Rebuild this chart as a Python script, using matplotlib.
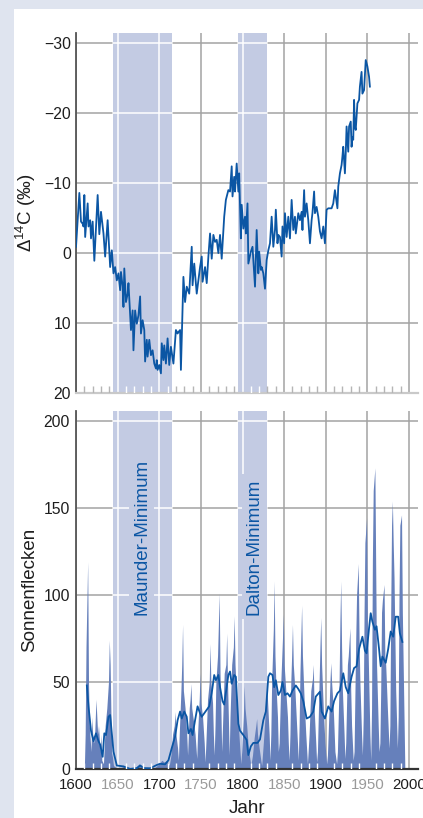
import matplotlib.pyplot as plt
import numpy as np

plt.rcParams['font.family'] = ['Liberation Sans', 'DejaVu Sans']
plt.rcParams['mathtext.default'] = 'regular'

# Delta 14C in tree rings (per mille), axis runs inverted
c14_years = [1600, 1604, 1606, 1608, 1609, 1610, 1611, 1614, 1615, 1617,
             1618, 1620, 1622, 1626, 1628, 1630, 1633, 1635, 1638, 1641,
             1643, 1645, 1647, 1649, 1651, 1653, 1654, 1656, 1657, 1658,
             1660, 1662, 1663, 1666, 1668, 1669, 1671, 1673, 1675, 1677,
             1678, 1680, 1682, 1683, 1685, 1686, 1688, 1690, 1692, 1694,
             1696, 1697, 1698, 1700, 1702, 1703, 1705, 1706, 1708, 1710,
             1712, 1714, 1717, 1720, 1722, 1723, 1725, 1726, 1729, 1731,
             1733, 1736, 1739, 1740, 1742, 1745, 1747, 1749, 1751, 1752,
             1755, 1757, 1759, 1761, 1763, 1765, 1767, 1769, 1771, 1773,
             1775, 1778, 1780, 1783, 1785, 1787, 1788, 1790, 1791, 1793,
             1795, 1796, 1798, 1799, 1801, 1803, 1804, 1806, 1807, 1810,
             1812, 1815, 1817, 1819, 1820, 1822, 1823, 1825, 1827, 1829,
             1831, 1833, 1835, 1837, 1839, 1840, 1842, 1843, 1845, 1847,
             1848, 1850, 1851, 1853, 1855, 1857, 1859, 1861, 1863, 1864,
             1866, 1867, 1869, 1871, 1872, 1874, 1875, 1877, 1879, 1881,
             1883, 1884, 1886, 1887, 1889, 1891, 1893, 1895, 1897, 1899,
             1901, 1903, 1905, 1907, 1909, 1911, 1914, 1915, 1917, 1919,
             1920, 1921, 1923, 1924, 1925, 1927, 1928, 1930, 1931, 1932,
             1933, 1934, 1935, 1936, 1938, 1940, 1941, 1943, 1944, 1946,
             1948, 1950, 1952, 1953]
c14_values = [-0.9, -8.6, -4.5, -4.2, -3.8, -8.3, -2.3, -7.1, -3.8, -4.7,
              -2.1, -4.5, 1.1, -8.3, -2.7, -5.9, -2.8, 0.5, -4.7, 2.0,
              -0.4, 2.9, 2.0, 3.9, 2.9, 5.3, 2.7, 4.8, 7.7, 2.2,
              7.0, 5.8, 4.3, 11.0, 8.2, 13.9, 8.2, 10.1, 8.9, 6.2,
              11.5, 9.6, 11.0, 15.5, 12.4, 14.8, 12.4, 14.6, 13.9, 15.8,
              16.5, 15.3, 16.7, 16.0, 17.2, 12.9, 15.3, 13.2, 15.8, 12.2,
              16.0, 13.4, 15.8, 11.0, 11.5, 11.3, 11.0, 16.7, 3.4, 7.0,
              4.8, 5.8, -0.9, 4.6, 1.5, 5.8, 3.9, 2.0, 0.5, 4.1,
              2.0, 4.3, 0.5, -2.8, 0.8, -2.6, -1.6, -1.9, 0.0, -2.6,
              0.8, -5.2, -7.6, -9.0, -8.8, -12.4, -8.1, -10.9, -8.8, -12.8,
              -8.8, -11.4, -2.1, -6.9, -3.5, -5.2, -2.8, -7.1, 1.5, -0.2,
              -0.9, 4.8, -3.3, 2.9, -0.2, 2.4, 2.0, 2.9, 5.1, 1.0,
              -0.4, -1.4, -5.2, -0.9, -3.3, -6.2, -1.4, -2.6, -2.3, 0.5,
              -3.8, -1.4, -5.7, -2.3, -5.2, -2.1, -7.6, -3.3, -5.2, -2.8,
              -4.7, -5.7, -4.7, -5.9, -3.3, -9.0, -5.2, -7.1, -4.7, -1.4,
              -4.7, -5.7, -8.8, -5.7, -6.6, -5.2, -3.1, -2.1, -3.8, -1.4,
              -6.2, -6.4, -6.4, -6.4, -7.1, -9.0, -6.4, -9.5, -11.4, -12.6,
              -13.8, -15.2, -11.4, -14.3, -18.1, -14.5, -18.1, -18.8, -15.2, -16.6,
              -16.2, -21.9, -18.1, -17.6, -21.4, -21.9, -23.8, -25.9, -22.8, -23.3,
              -27.6, -26.7, -25.2, -23.8]

# yearly sunspot numbers (turning points of each cycle)
ssn_years = [1610, 1611, 1612, 1614, 1615, 1616, 1618, 1619, 1620, 1622,
             1624, 1625, 1626, 1627, 1629, 1630, 1631, 1633, 1635, 1637,
             1639, 1640, 1641, 1642, 1643, 1645, 1650, 1655, 1660, 1665,
             1672, 1676, 1680, 1690, 1695, 1700, 1703, 1706, 1709, 1712,
             1714, 1716, 1718, 1719, 1720, 1722, 1723,
             1724, 1726, 1727, 1728, 1729, 1731, 1733, 1734,
             1735, 1736, 1737, 1738, 1739, 1741, 1743, 1745,
             1746, 1748, 1749, 1750, 1752, 1754, 1755,
             1756, 1758, 1760, 1761, 1762, 1764, 1765, 1766,
             1767, 1768, 1770, 1772, 1773, 1774, 1775,
             1776, 1778, 1780, 1781, 1782, 1783, 1784,
             1785, 1787, 1789, 1790, 1791, 1793, 1795, 1797, 1798,
             1799, 1801, 1802, 1803, 1805, 1807, 1810,
             1812, 1814, 1816, 1817, 1818, 1820, 1822, 1823,
             1825, 1827, 1829, 1830, 1832, 1833,
             1834, 1835, 1837, 1838, 1839, 1840, 1842, 1843,
             1844, 1846, 1848, 1849, 1850, 1852, 1854, 1855, 1856,
             1857, 1858, 1859, 1860, 1861, 1863, 1865, 1867,
             1868, 1869, 1870, 1871, 1872, 1874, 1876, 1878,
             1880, 1882, 1884, 1885, 1886, 1888, 1889,
             1890, 1892, 1893, 1894, 1895, 1897, 1899, 1901,
             1902, 1904, 1905, 1906, 1907, 1909, 1911, 1913,
             1914, 1916, 1917, 1918, 1919, 1920, 1922, 1923,
             1924, 1926, 1927, 1929, 1930, 1931, 1933,
             1934, 1936, 1937, 1939, 1940, 1941, 1943, 1944,
             1945, 1946, 1947, 1949, 1950, 1951, 1953, 1954,
             1955, 1956, 1957, 1959, 1960, 1961, 1963, 1964,
             1965, 1966, 1967, 1968, 1970, 1971, 1972, 1974, 1976,
             1977, 1978, 1979, 1980, 1981, 1982, 1984, 1986,
             1987, 1988, 1989, 1991, 1992, 1994, 1995]
ssn_values = [0, 20, 70, 119, 50, 25, 10, 30, 20, 15,
              40, 30, 20, 25, 10, 20, 5, 3, 25, 35,
              50, 74, 60, 30, 10, 2, 0, 1, 2, 0,
              1, 3, 1, 0, 1, 3, 5, 4, 5, 2,
              8, 20, 25, 33, 20, 12, 5,
              20, 45, 60, 83, 45, 35, 20, 8,
              20, 35, 40, 49, 35, 28, 20, 6,
              20, 40, 55, 38, 30, 15, 4,
              15, 40, 50, 72, 50, 38, 20, 8,
              25, 50, 65, 101, 55, 35, 10,
              25, 55, 60, 78, 50, 30, 8,
              30, 60, 70, 88, 60, 40, 25, 10, 3,
              10, 30, 48, 35, 25, 12, 2,
              8, 18, 25, 29, 20, 12, 5, 2,
              15, 30, 45, 40, 20, 5,
              20, 50, 80, 108, 65, 50, 30, 10,
              15, 50, 75, 89, 60, 45, 30, 15, 5,
              20, 50, 65, 83, 60, 45, 25, 5,
              25, 55, 75, 94, 65, 40, 20, 3,
              20, 45, 52, 60, 35, 15, 4,
              10, 50, 70, 87, 60, 35, 15, 3,
              8, 35, 50, 61, 50, 35, 10, 3,
              10, 50, 85, 108, 70, 45, 20, 6,
              15, 60, 65, 81, 45, 25, 5,
              10, 75, 100, 118, 75, 50, 20, 8,
              30, 90, 130, 144, 85, 65, 20, 5,
              35, 120, 160, 173, 115, 60, 25, 10,
              15, 45, 90, 97, 106, 65, 60, 35, 12,
              25, 90, 140, 154, 130, 110, 45, 12,
              30, 100, 140, 146, 90, 30, 0]

# smoothed sunspot numbers
smooth_years = [1613, 1615, 1618, 1621, 1624, 1627, 1629, 1632, 1634, 1636,
                1639, 1641, 1643, 1645, 1647, 1649, 1657, 1665, 1673, 1677,
                1682, 1689, 1697, 1701, 1707, 1711, 1715, 1719, 1722, 1725,
                1727, 1730, 1733, 1735, 1738, 1740, 1743, 1746, 1749, 1751,
                1754, 1757, 1760, 1763, 1766, 1768, 1771, 1773, 1776, 1778,
                1783, 1785, 1787, 1790, 1792, 1795, 1797, 1801, 1805, 1807,
                1810, 1813, 1818, 1821, 1825, 1828, 1831, 1833, 1836, 1838,
                1840, 1843, 1846, 1848, 1851, 1854, 1857, 1860, 1864, 1867,
                1870, 1873, 1877, 1881, 1885, 1888, 1893, 1895, 1899, 1903,
                1907, 1910, 1914, 1917, 1921, 1924, 1927, 1931, 1934, 1937,
                1940, 1944, 1947, 1949, 1952, 1954, 1956, 1959, 1961, 1964,
                1966, 1968, 1972, 1975, 1978, 1981, 1984, 1987, 1989, 1992]
smooth_values = [48, 36, 22, 16, 20.5, 16, 14, 7, 20.5, 19.5,
                 30, 31, 20.5, 10, 6, 2, 1.5, 0, 0.5, 2,
                 0.5, 0.4, 2.3, 3, 2.7, 5, 12, 18.6, 28, 33,
                 29, 33, 30, 20.5, 23, 19.5, 28, 36, 32, 30,
                 32, 34, 36, 43.5, 54, 51, 54, 47, 39, 37,
                 54, 56, 49, 54, 53, 26, 22, 19.5, 16.7, 8,
                 13, 15, 15, 17, 28, 33, 53, 55, 54, 47,
                 51, 42.5, 45, 50, 42.5, 43.5, 41.6, 45, 48, 46,
                 43.5, 39, 29, 30, 33, 41.6, 44.4, 33, 29, 36,
                 33, 39, 43.5, 45, 55, 47, 43.5, 53, 58, 59,
                 69, 76, 68, 66.5, 81, 89.5, 84.7, 80, 82, 69,
                 59, 64.6, 61, 69, 79, 76, 87.5, 87.5, 78, 73]

bands = [(1645, 1715), (1795, 1830)]
band_names = ['Maunder-Minimum', 'Dalton-Minimum']
band_label_x = [1679, 1814]

year_ticks = list(range(1600, 2001, 50))
year_labels = [str(y) for y in year_ticks]
c14_ticks = [-30, -20, -10, 0, 10, 20]
c14_labels = ['\u221230', '\u221220', '\u221210', '0', '10', '20']
ssn_ticks = [0, 50, 100, 150, 200]

band_color = '#c3cbe3'
line_color = '#0b56a4'
fill_color = '#6680bb'
grid_color = '#a3a3a3'
text_color = '#1e1e1e'


def setup(ax, yticks, tick_color):
    ax.set_facecolor('none')
    ax.set_xlim(1600, 2010.8)
    ax.set_xticks(year_ticks)
    ax.set_yticks(yticks)
    ax.spines['top'].set_visible(False)
    ax.spines['right'].set_visible(False)
    ax.spines['left'].set_color('#555555')
    ax.spines['left'].set_linewidth(1.3)
    ax.grid(True, color=grid_color, linewidth=1.1)
    ax.set_axisbelow(True)
    ax.tick_params(length=0, colors=text_color)
    ax.tick_params(axis='y', pad=3.5, labelsize=11.3)
    ax.tick_params(axis='x', labelsize=10.8)
    for b0, b1 in bands:
        ax.axvspan(b0, b1, color=band_color, lw=0, zorder=1)
        # grid lines stay visible inside the shaded spans, in white
        for y in yticks:
            ax.plot([b0, b1], [y, y], color='white', lw=1.1, zorder=1.1)
        for x in year_ticks:
            if b0 < x < b1:
                ax.axvline(x, color='white', lw=1.1, zorder=1.1)
    # 10-year ticks inside the axes
    for yr in range(1610, 2000, 10):
        if yr % 50 == 0:
            continue
        inside = any(b0 < yr < b1 for b0, b1 in bands)
        ax.plot([yr, yr], [0, 0.018], transform=ax.get_xaxis_transform(),
                color='white' if inside else tick_color, lw=1.0, zorder=4,
                solid_capstyle='butt')


fig = plt.figure(figsize=(4.23, 8.18), dpi=100)
fig.patch.set_facecolor('#dfe4ef')
fig.add_artist(plt.Rectangle((14 / 423, 0), 1, 1 - 9 / 818, transform=fig.transFigure,
                             facecolor='white', edgecolor='none', zorder=0))

# upper panel: radiocarbon
ax1 = fig.add_axes([0.1797, 0.5196, 0.8085, 0.4401])
setup(ax1, c14_ticks, '#b5b5b5')
ax1.set_ylim(20, -31.47)
ax1.set_yticklabels(c14_labels)
ax1.tick_params(axis='x', labelbottom=False)
ax1.spines['bottom'].set_color('#c9c9c9')
ax1.spines['bottom'].set_linewidth(1.6)
ax1.plot(c14_years, c14_values, color=line_color, lw=1.3, zorder=3)
ax1.set_ylabel('\u0394$^{14}$C (\u2030)', fontsize=13.5, color=text_color)
ax1.yaxis.set_label_coords(-0.111, 0.5)

# lower panel: sunspots
ax2 = fig.add_axes([0.1797, 0.0599, 0.8085, 0.4377])
setup(ax2, ssn_ticks, 'white')
ax2.set_ylim(0, 205.7)
ax2.set_xticklabels(year_labels)
ax2.tick_params(axis='x', pad=6.5)
ax2.tick_params(axis='y', pad=4.5)
for i, lab in enumerate(ax2.get_xticklabels()):
    lab.set_color(text_color if i % 2 == 0 else '#9a9a9a')
ax2.spines['bottom'].set_color('#333333')
ax2.spines['bottom'].set_linewidth(1.6)
ax2.fill_between(ssn_years, ssn_values, 0, color=fill_color, lw=0, zorder=2)
ax2.plot(smooth_years, smooth_values, color=line_color, lw=1.3, zorder=3)
for name, x in zip(band_names, band_label_x):
    ax2.text(x, 88.5, name, rotation=90, ha='center', va='bottom', fontsize=13.5,
             color=line_color, zorder=3,
             bbox=dict(facecolor=band_color, edgecolor='none', pad=3))
ax2.set_ylabel('Sonnenflecken', fontsize=13.5, color=text_color)
ax2.yaxis.set_label_coords(-0.111, 0.5)
ax2.set_xlabel('Jahr', fontsize=13.5, color=text_color)
ax2.xaxis.set_label_coords(0.5, -0.087)

fig.savefig('out.png', dpi=100)
